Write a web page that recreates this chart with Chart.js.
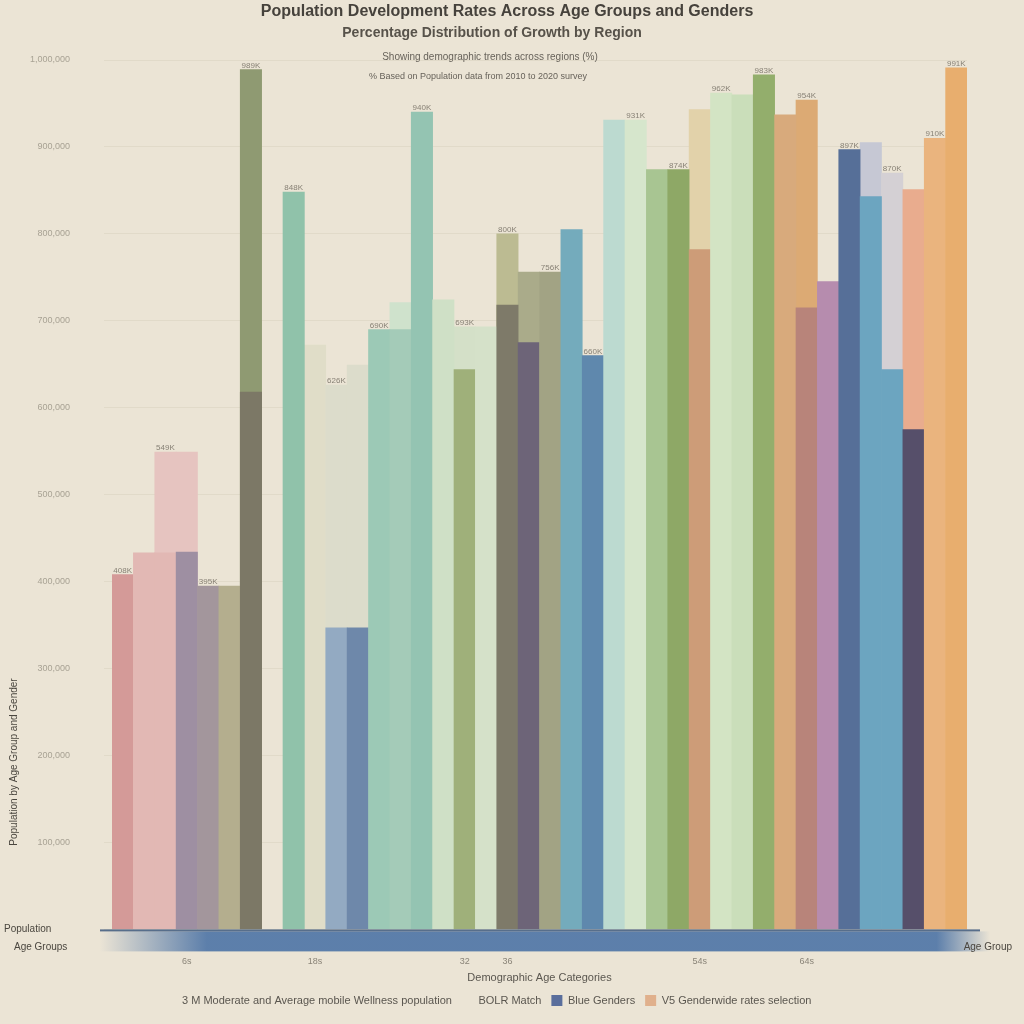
<!DOCTYPE html>
<html>
<head>
<meta charset="utf-8">
<script src="https://cdn.jsdelivr.net/npm/chart.js@4"></script>
<style>
  body { margin: 0; background: #ebe4d5; }
  #wrap { width: 1024px; height: 1024px; position: relative; }
</style>
</head>
<body>
<div id="wrap"><canvas id="myBarChart"></canvas></div>
<script>
// age categories (one narrow column each)
var categories = ["0","2","4","6","8","10","12","14","16","18",
                  "20","22","24","26","28","30","32","34","36","38",
                  "40","42","44","46","48","50","52","54","56","58",
                  "60","62","64","66","68","70","72","74","76","78"];

// front (solid) series, population in thousands
var frontValues = [408, 433, 433, 434, 395, 395, 618, null, 848, null,
                   347, 347, 690, 690, 940, 724, 644, 693, 718, 675,
                   756, 805, 660, 931, 931, 874, 874, 782, 962, 960,
                   983, 937, 715, 745, 897, 843, 644, 575, 910, 991];

// back (faded) series, population in thousands
var backValues = [null, null, 549, 549, null, null, 989, null, null, 672,
                  626, 649, null, 721, null, null, 693, null, 800, 756,
                  null, null, null, null, null, null, null, 943, null, null,
                  null, null, 954, null, null, 905, 870, 851, null, null];

var frontColors = ["#d49a98","#e2b8b4","#e2b8b4","#9e8fa2","#a3969c","#b4ae8e","#7c7866","#ebe4d5","#90c2aa","#ebe4d5",
                   "#93aac2","#6e88aa","#9cc9b6","#a4cbb8","#94c4b2","#cfe0c6","#9fb07a","#d5e1c9","#7e7a69","#6d6478",
                   "#a2a384","#74abbc","#5f88ad","#bcdad0","#d6e6cc","#a8c592","#8ea866","#cd9c78","#d3e4c4","#cadeba",
                   "#93ae6c","#d8aa7c","#b8847a","#b68cae","#566f98","#6ca5c0","#6ca5c0","#564f6a","#eab47e","#e8ae6e"];

var backColors = ["#ebe4d5","#ebe4d5","#e6c4c0","#e6c4c0","#ebe4d5","#ebe4d5","#8f9a72","#ebe4d5","#ebe4d5","#e0ddc8",
                  "#dcdccb","#dcdccb","#ebe4d5","#cfe2cc","#ebe4d5","#ebe4d5","#d4e0c8","#ebe4d5","#bcbb92","#aaab8a",
                  "#ebe4d5","#ebe4d5","#ebe4d5","#ebe4d5","#ebe4d5","#ebe4d5","#ebe4d5","#e2d2aa","#ebe4d5","#ebe4d5",
                  "#ebe4d5","#ebe4d5","#dcaa74","#ebe4d5","#ebe4d5","#c6c8d4","#d4d0d4","#e9ac8e","#ebe4d5","#ebe4d5"];

// y tick values (thousands)
var yTicks = [0, 100, 200, 300, 400, 500, 600, 700, 800, 900, 1000];
// which x labels are printed
var shownLabels = {3: "6s", 9: "18s", 16: "32", 18: "36", 27: "54s", 32: "64s"};

var legendItems = [
  {text: "3 M Moderate and Average mobile Wellness population", color: "rgba(0,0,0,0)"},
  {text: "BOLR Match", color: "rgba(0,0,0,0)"},
  {text: "Blue Genders", color: "#5a6e9c"},
  {text: "V5 Genderwide rates selection", color: "#e0b08c"}
];

// 背景・タイトル・帯の描画
var decoPlugin = {
  id: "deco",
  beforeDraw: function (chart) {
    var c = chart.ctx;
    c.save();
    c.fillStyle = "#ebe4d5";
    c.fillRect(0, 0, chart.width, chart.height);
    c.restore();
  },
  afterDatasetsDraw: function (chart) {
    var c = chart.ctx;
    var meta = chart.getDatasetMeta(1);
    var metaF = chart.getDatasetMeta(0);
    c.save();
    c.font = '8px "Liberation Sans"';
    c.fillStyle = "rgba(80,74,64,0.65)";
    c.textAlign = "center";
    for (var i = 0; i < categories.length; i++) {
      var v = backValues[i] != null ? backValues[i] : frontValues[i];
      var el = backValues[i] != null ? meta.data[i] : metaF.data[i];
      if (v == null || !el) continue;
      if (i % 2 === 1 && i !== 39) continue;
      c.fillText(v + "K", el.x, el.y - 4);
    }
    c.restore();
  },
  afterDraw: function (chart) {
    var c = chart.ctx;
    var area = chart.chartArea;
    c.save();
    // titles
    c.textAlign = "center";
    c.textBaseline = "middle";
    c.fillStyle = "#46423c";
    c.font = 'bold 16px "Liberation Sans"';
    c.fillText("Population Development Rates Across Age Groups and Genders", 507, 12);
    c.fillStyle = "#57524a";
    c.font = 'bold 14px "Liberation Sans"';
    c.fillText("Percentage Distribution of Growth by Region", 492, 33);
    c.fillStyle = "#67625a";
    c.font = '10px "Liberation Sans"';
    c.fillText("Showing demographic trends across regions (%)", 490, 57);
    c.font = '9px "Liberation Sans"';
    c.fillText("% Based on Population data from 2010 to 2020 survey", 478, 77);

    // blue band under the axis
    var g = c.createLinearGradient(100, 0, 990, 0);
    g.addColorStop(0, "rgba(77,116,166,0)");
    g.addColorStop(0.12, "rgba(77,116,166,0.9)");
    g.addColorStop(0.94, "rgba(77,116,166,0.9)");
    g.addColorStop(1, "rgba(77,116,166,0)");
    c.fillStyle = g;
    c.fillRect(100, area.bottom + 2, 890, 20);
    c.fillStyle = "rgba(50,80,120,0.8)";
    c.fillRect(100, area.bottom, 880, 2);

    // side texts
    c.fillStyle = "#4a463f";
    c.font = '10px "Liberation Sans"';
    c.textAlign = "left";
    c.fillText("Population", 4, area.bottom);
    c.fillText("Age Groups", 14, area.bottom + 18);
    c.textAlign = "right";
    c.fillText("Age Group", 1012, area.bottom + 18);

    // y axis title
    c.translate(14, 762);
    c.rotate(-Math.PI / 2);
    c.textAlign = "center";
    c.fillText("Population by Age Group and Gender", 0, 0);
    c.restore();
  }
};

var ctx = document.getElementById("myBarChart");

var myBarChart = new Chart(ctx, {
  type: "bar",
  data: {
    labels: categories,
    datasets: [
      {
        label: "front",
        data: frontValues,
        backgroundColor: frontColors,
        grouped: false,
        order: 1,
        barPercentage: 1,
        categoryPercentage: 1
      },
      {
        label: "back",
        data: backValues,
        backgroundColor: backColors,
        grouped: false,
        order: 2,
        barPercentage: 1,
        categoryPercentage: 1
      }
    ]
  },
  options: {
    responsive: true,
    maintainAspectRatio: false,
    animation: false,
    layout: { padding: { top: 60, right: 57, left: 10, bottom: 8 } },
    plugins: {
      title: { display: false },
      tooltip: { enabled: false },
      legend: {
        position: "bottom",
        labels: {
          font: { family: "Liberation Sans", size: 11 },
          color: "#5a564f",
          boxWidth: 11,
          boxHeight: 11,
          padding: 10,
          generateLabels: function () {
            return legendItems.map(function (it) {
              return { text: it.text, fillStyle: it.color, strokeStyle: it.color, lineWidth: 0, fontColor: "#5a564f" };
            });
          }
        }
      }
    },
    scales: {
      x: {
        grid: { display: false, drawTicks: false },
        border: { display: false },
        ticks: {
          padding: 5,
          autoSkip: false,
          maxRotation: 0,
          font: { family: "Liberation Sans", size: 9 },
          color: "#8a8478",
          // 空行2つでラベルを帯の下へずらす
          callback: function (val, idx) { return shownLabels[idx] ? ["", "", shownLabels[idx]] : ""; }
        },
        title: {
          display: true,
          text: "Demographic Age Categories",
          font: { family: "Liberation Sans", size: 11 },
          color: "#5a564f",
          padding: { top: 0, bottom: 0 }
        }
      },
      y: {
        min: 0,
        max: 1000,
        afterFit: function (s) { s.width = 102; },
        afterBuildTicks: function (s) { s.ticks = yTicks.map(function (v) { return { value: v }; }); },
        grid: { color: "rgba(190,180,160,0.22)" },
        border: { display: false },
        ticks: {
          padding: 34,
          font: { family: "Liberation Sans", size: 9 },
          color: "#a8a294",
          callback: function (v) { return v === 0 ? "" : (v * 1000).toLocaleString("en-US"); }
        }
      }
    }
  },
  plugins: [decoPlugin]
});
</script>
</body>
</html>
